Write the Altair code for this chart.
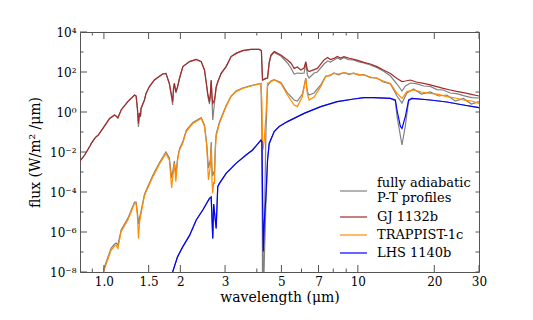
import altair as alt
import pandas as pd

# ---------------- data (wavelength in µm, log10 flux in W/m²/µm) --------------
gj_wl = [0.805, 0.840, 0.881, 0.892, 0.920, 0.935, 0.947, 0.991, 1.053, 1.102,
         1.120, 1.135, 1.169, 1.242, 1.320, 1.339, 1.355, 1.368, 1.380, 1.393,
         1.400, 1.444, 1.465, 1.511, 1.580, 1.703, 1.755, 1.810, 1.848, 1.865,
         1.880, 1.894, 1.920, 1.951, 1.986, 2.046, 2.174, 2.310, 2.416, 2.489,
         2.541, 2.564, 2.604, 2.625, 2.645, 2.665, 2.683, 2.725, 2.767, 2.807,
         2.895, 3.029, 3.168, 3.314, 3.518, 3.795, 4.090, 4.170, 4.200, 4.214,
         4.345, 4.409, 4.477, 4.546, 4.684, 4.976, 5.281, 5.450, 5.611, 5.781,
         5.961, 6.142, 6.237, 6.330, 6.426, 6.723, 6.926, 7.358, 7.600, 7.800,
         8.053, 8.300, 8.550, 8.813, 9.200, 9.645, 10.00, 10.56, 11.20, 11.90,
         12.60, 13.44, 14.26, 14.92, 15.40, 16.10, 17.00, 18.15, 19.30, 20.46,
         21.70, 23.10, 24.50, 26.05, 28.00, 30.0]
gj_logf = [-2.45, -2.15, -1.70, -1.57, -1.32, -1.22, -1.18, -0.82, -0.32, -0.15,
           -0.22, -0.30, 0.10, 0.52, 0.85, 0.80, 0.20, -0.57, -0.05, -0.20,
           0.18, 0.60, 0.93, 1.27, 1.60, 1.90, 1.93, 1.43, 0.80, 0.52,
           1.20, 1.43, 1.00, 1.27, 1.70, 2.27, 2.52, 2.63, 2.52, 2.10,
           1.30, 0.93, 0.52, 0.90, 1.60, 0.80, 0.43, 0.60, 1.27, 1.50,
           1.93, 2.27, 2.77, 2.93, 3.07, 3.13, 3.13, 3.07, 2.00, 1.60,
           1.68, 1.70, 2.50, 2.85, 3.02, 2.85, 2.60, 2.45, 2.18, 2.25,
           2.10, 2.20, 2.52, 2.10, 2.02, 2.12, 2.18, 2.60, 2.72, 2.62,
           2.68, 2.78, 2.70, 2.77, 2.70, 2.63, 2.58, 2.48, 2.40, 2.27,
           2.10, 1.93, 1.68, 1.52, 1.55, 1.60, 1.50, 1.43, 1.36, 1.27,
           1.18, 1.10, 1.03, 0.97, 0.88, 0.80]
gj_adiabatic_logf = [-2.45, -2.15, -1.70, -1.57, -1.32, -1.22, -1.18, -0.82, -0.32, -0.15,
                     -0.22, -0.30, 0.10, 0.52, 0.85, 0.80, 0.10, -0.75, -0.05, -0.25,
                     0.18, 0.60, 0.93, 1.27, 1.60, 1.90, 1.93, 1.40, 0.70, 0.35,
                     1.15, 1.43, 0.95, 1.27, 1.70, 2.27, 2.52, 2.63, 2.52, 2.10,
                     1.25, 0.80, 0.40, 0.80, 1.55, 0.60, -0.40, 0.45, 1.20, 1.50,
                     1.93, 2.27, 2.77, 2.93, 3.07, 3.13, 3.13, 3.07, 2.00, 1.60,
                     1.68, 1.70, 2.45, 2.80, 2.98, 2.80, 2.45, 2.20, 1.90, 1.95,
                     1.93, 1.95, 2.45, 1.85, 1.70, 1.95, 2.00, 2.40, 2.55, 2.50,
                     2.60, 2.70, 2.62, 2.72, 2.62, 2.60, 2.52, 2.45, 2.35, 2.22,
                     2.05, 1.80, 1.40, 1.05, 1.30, 1.45, 1.42, 1.30, 1.28, 1.12,
                     1.10, 0.95, 0.92, 0.82, 0.72, 0.70]

tr_wl = [0.995, 1.068, 1.102, 1.117, 1.135, 1.169, 1.242, 1.320, 1.339, 1.355,
         1.368, 1.380, 1.393, 1.444, 1.465, 1.560, 1.660, 1.755, 1.810, 1.848,
         1.865, 1.894, 1.920, 1.951, 1.986, 2.046, 2.110, 2.240, 2.416, 2.489,
         2.541, 2.580, 2.625, 2.645, 2.665, 2.683, 2.705, 2.725, 2.745, 2.767,
         2.851, 3.029, 3.168, 3.314, 3.518, 3.795, 4.153, 4.190, 4.214, 4.241,
         4.280, 4.345, 4.409, 4.546, 4.684, 4.976, 5.281, 5.611, 5.781, 6.049,
         6.237, 6.330, 6.426, 6.723, 7.141, 7.471, 7.750, 8.053, 8.400, 8.813,
         9.200, 9.645, 10.10, 10.56, 11.20, 11.90, 12.60, 13.44, 14.26, 14.92,
         15.61, 16.58, 17.80, 19.28, 20.80, 22.40, 24.20, 26.05, 28.00, 30.0]
tr_logf = [-8.00, -6.90, -6.70, -6.65, -6.82, -5.98, -5.40, -4.57, -4.60, -5.20,
           -6.32, -5.60, -5.23, -4.20, -4.00, -3.23, -2.57, -2.07, -2.40, -3.80,
           -3.30, -2.57, -3.48, -2.40, -1.90, -1.55, -0.98, -0.57, -0.32, -0.73,
           -1.73, -3.40, -2.70, -1.70, -3.50, -4.07, -3.50, -3.60, -2.00, -1.20,
           -0.57, 0.27, 0.77, 1.02, 1.18, 1.30, 1.43, 0.50, -1.73, -1.80,
           -1.40, -0.20, 1.43, 1.52, 1.60, 1.43, 0.85, 0.35, 0.27, 0.77,
           1.68, 0.90, 0.60, 0.75, 1.27, 1.77, 1.85, 1.93, 1.90, 1.97,
           1.92, 1.93, 1.88, 1.85, 1.75, 1.68, 1.55, 1.43, 0.93, 0.68,
           1.02, 1.10, 1.00, 0.93, 0.88, 0.77, 0.70, 0.60, 0.55, 0.43]
tr_adiabatic_logf = [-7.90, -6.80, -6.60, -6.55, -6.65, -5.90, -5.32, -4.50, -4.50, -5.00,
                     -5.60, -5.30, -5.10, -4.12, -3.92, -3.15, -2.50, -2.00, -2.30, -3.30,
                     -3.00, -2.45, -3.10, -2.30, -1.82, -1.48, -0.92, -0.52, -0.28, -0.65,
                     -1.60, -2.80, -2.40, -1.50, -2.90, -3.20, -3.00, -3.00, -1.80, -1.10,
                     -0.50, 0.32, 0.80, 1.05, 1.20, 1.32, 1.43, -1.00, -9.00, -9.00,
                     -6.00, -1.00, 1.30, 1.55, 1.62, 1.48, 0.95, 0.60, 0.55, 0.90,
                     1.70, 1.00, 0.85, 0.95, 1.35, 1.80, 1.80, 1.95, 1.86, 1.98,
                     1.88, 1.94, 1.84, 1.87, 1.72, 1.70, 1.50, 1.40, 0.80, 0.45,
                     0.95, 1.15, 0.90, 1.00, 0.80, 0.85, 0.55, 0.68, 0.40, 0.52]

lhs_wl = [1.865, 1.951, 2.046, 2.174, 2.310, 2.451, 2.604, 2.645, 2.683, 2.705,
          2.767, 2.807, 2.851, 3.029, 3.314, 3.628, 3.851, 4.153, 4.190, 4.241,
          4.280, 4.345, 4.409, 4.477, 4.684, 4.900, 5.281, 6.142, 7.141, 8.296,
          9.645, 10.56, 11.55, 13.44, 14.05, 14.26, 14.71, 14.92, 15.38, 15.85,
          16.33, 19.28, 22.40, 26.05, 30.0]
lhs_logf = [-8.00, -7.23, -6.73, -6.17, -5.40, -4.90, -4.32, -4.25, -6.32, -4.60,
            -5.82, -3.73, -3.57, -3.07, -2.57, -2.15, -1.90, -1.40, -1.50, -6.98,
            -5.50, -4.23, -2.40, -1.57, -0.98, -0.73, -0.48, -0.07, 0.27, 0.52,
            0.65, 0.72, 0.72, 0.68, 0.60, 0.10, -0.73, -0.82, -0.23, 0.60,
            0.68, 0.60, 0.50, 0.35, 0.22]
lhs_adiabatic_logf = [-8.00, -7.23, -6.73, -6.17, -5.40, -4.90, -4.32, -4.25, -6.32, -4.60,
                      -5.82, -3.73, -3.57, -3.07, -2.57, -2.15, -1.90, -1.40, -1.60, -9.00,
                      -7.50, -4.50, -2.40, -1.57, -0.98, -0.73, -0.48, -0.07, 0.27, 0.52,
                      0.65, 0.72, 0.72, 0.68, 0.55, -0.20, -1.20, -1.65, -0.70, 0.55,
                      0.68, 0.60, 0.50, 0.35, 0.22]

labels = ["fully adiabatic P-T profiles", "GJ 1132b", "TRAPPIST-1c", "LHS 1140b"]
legend_texts = [["fully adiabatic", "P-T profiles"], "GJ 1132b", "TRAPPIST-1c", "LHS 1140b"]
colors = ["#808080", "#a52a2a", "#ff8c00", "#0000ff"]

x_major = [1.0, 1.5, 2, 3, 5, 7, 10, 20, 30]
x_minor = [0.9, 4, 6, 8, 9]
y_major = [1e-8, 1e-6, 1e-4, 1e-2, 1e0, 1e2, 1e4]
y_minor = [1e-7, 1e-5, 1e-3, 1e-1, 1e1, 1e3]

# ---------------- build tables ----------------
rows = []
def add(wl, logf, series, label, kind):
    for w, v in zip(wl, logf):
        rows.append({"wl": w, "flux": 10.0 ** v, "series": series, "label": label, "kind": kind})

add(gj_wl, gj_adiabatic_logf, "gj_ad", labels[0], "ad")
add(tr_wl, tr_adiabatic_logf, "tr_ad", labels[0], "ad")
add(lhs_wl, lhs_adiabatic_logf, "lhs_ad", labels[0], "ad")
add(gj_wl, gj_logf, "gj", labels[1], "model")
add(tr_wl, tr_logf, "tr", labels[2], "model")
add(lhs_wl, lhs_logf, "lhs", labels[3], "model")
df = pd.DataFrame(rows)

FONT = "DejaVu Serif"
W, H = 399, 240

xscale = alt.Scale(type="log", domain=[0.805, 30], nice=False)
yscale = alt.Scale(type="log", domain=[1e-8, 1e4], nice=False)

xaxis = alt.Axis(values=x_major, labelExpr="datum.value == 1 ? '1.0' : '' + datum.value",
                 title="wavelength (μm)", tickSize=0, domain=False, grid=False,
                 labelPadding=4, labelFlush=False, labelOverlap=False,
                 titleBaseline="middle", titleY=25)
yaxis = alt.Axis(values=y_major,
                 labelExpr="['10⁻⁸','10⁻⁶','10⁻⁴','10⁻²','10⁰','10²','10⁴'][round(log(datum.value)/LN10/2)+4]",
                 title="flux (W/m² /μm)", tickSize=0, domain=False, grid=False,
                 labelPadding=4, labelFlush=False, labelOverlap=False,
                 titleBaseline="middle", titleX=-45)

X = alt.X("wl:Q", scale=xscale, axis=xaxis)
Y = alt.Y("flux:Q", scale=yscale, axis=yaxis)
color = alt.Color("label:N", scale=alt.Scale(domain=labels, range=colors), legend=None)

base = alt.Chart(df)
gray_lines = base.transform_filter("datum.kind == 'ad'").mark_line(strokeWidth=1.2, clip=True).encode(
    x=X, y=Y, color=color, detail="series:N")
model_lines = base.transform_filter("datum.kind == 'model'").mark_line(strokeWidth=1.2, clip=True).encode(
    x=X, y=Y, color=color, detail="series:N")

# ---------------- inward ticks on all four sides ----------------
tick_color = "#555555"
xmaj = pd.DataFrame({"wl": x_major})
xmin = pd.DataFrame({"wl": x_minor})
ymaj = pd.DataFrame({"flux": y_major})
ymin = pd.DataFrame({"flux": y_minor})

def xticks(d, length):
    bottom = alt.Chart(d).mark_rule(color=tick_color, strokeWidth=1).encode(
        x=X, y=alt.value(H), y2=alt.value(H - length))
    top = alt.Chart(d).mark_rule(color=tick_color, strokeWidth=1).encode(
        x=X, y=alt.value(0), y2=alt.value(length))
    return [bottom, top]

def yticks(d, length_left, length_right):
    left = alt.Chart(d).mark_rule(color=tick_color, strokeWidth=1).encode(
        y=Y, x=alt.value(0), x2=alt.value(length_left))
    right = alt.Chart(d).mark_rule(color=tick_color, strokeWidth=1).encode(
        y=Y, x=alt.value(W), x2=alt.value(W - length_right))
    return [left, right]

# ---------------- legend (lower right, inside the plot) ----------------
legend_y = [159, 185, 203, 221]
legend_text_y = [151, 185, 203, 221]
legend_layers = []
for lab, txt, col, ly, ty in zip(labels, legend_texts, colors, legend_y, legend_text_y):
    d = pd.DataFrame({"label": [lab]})
    legend_layers.append(alt.Chart(d).mark_rule(color=col, strokeWidth=1.6, opacity=0.75).encode(
        x=alt.value(260), x2=alt.value(287), y=alt.value(ly)))
    legend_layers.append(alt.Chart(d).mark_text(
        text=txt, align="left", baseline="middle", font=FONT, fontSize=13, lineHeight=15,
        color="black").encode(x=alt.value(297), y=alt.value(ty)))

layers = ([gray_lines, model_lines] + xticks(xmaj, 7) + xticks(xmin, 3.5)
          + yticks(ymaj, 7, 3.5) + yticks(ymin, 3.5, 3.5) + legend_layers)

chart = alt.layer(*layers).properties(
    width=W, height=H,
    autosize=alt.AutoSizeParams(type="none"),
    padding={"left": 72, "top": 24, "right": 40, "bottom": 36},
).configure_view(stroke="#555555", strokeWidth=1).configure_axis(
    labelFont=FONT, labelFontSize=12, labelColor="black",
    titleFont=FONT, titleFontSize=14, titleFontWeight="normal", titleColor="black",
)

chart.save("out.html", embed_options={"renderer": "svg", "actions": False})
